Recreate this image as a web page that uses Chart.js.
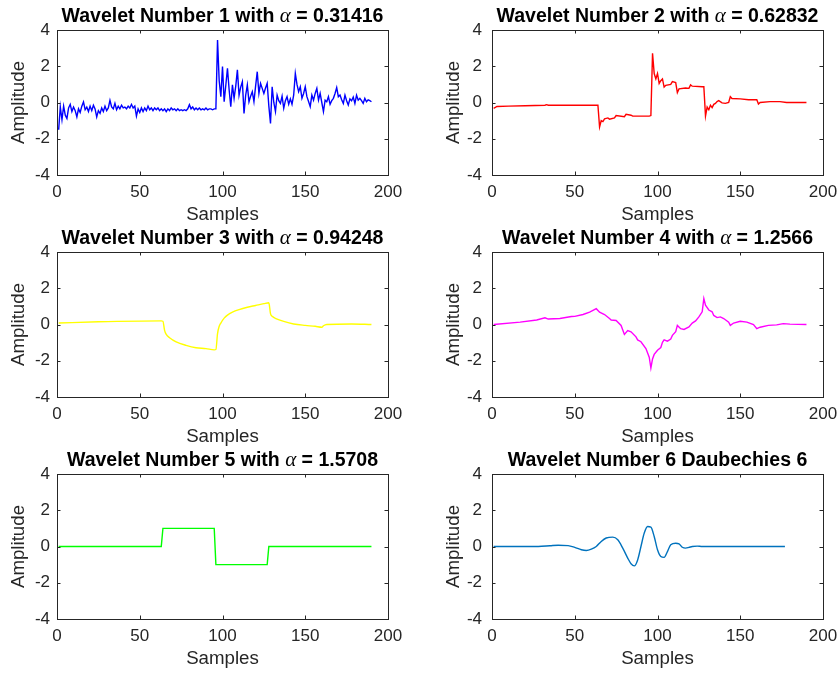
<!DOCTYPE html>
<html>
<head>
<meta charset="utf-8">
<title>Wavelets</title>
<script src="https://cdn.jsdelivr.net/npm/chart.js@4/dist/chart.umd.min.js"></script>
<style>
  html, body { margin: 0; padding: 0; background: #fff; overflow: hidden; }
  body { width: 839px; height: 673px; position: relative; }
  canvas { position: absolute; }
</style>
</head>
<body>
<canvas id="w1"></canvas>
<canvas id="w2"></canvas>
<canvas id="w3"></canvas>
<canvas id="w4"></canvas>
<canvas id="w5"></canvas>
<canvas id="w6"></canvas>
<script>
// wavelet 1, one value per sample starting at sample 1
const wavelet1 = [
  -1.50, -0.25, -0.95, -0.20, -0.70, -0.88, -0.30, -0.10, -0.50, -0.25,
  -0.45, -0.80, -0.35, -0.55, -0.20, 0.03, -0.40, -0.25, -0.50, -0.20,
  -0.45, -0.15, -0.35, -0.80, -0.45, -0.60, -0.30, -0.50, -0.20, -0.45,
  -0.30, 0.12, -0.25, -0.35, -0.05, -0.40, -0.20, -0.35, -0.15, -0.30,
  -0.25, -0.35, -0.20, -0.30, -0.10, -0.30, -0.20, -0.75, -0.35, -0.55,
  -0.30, -0.50, -0.30, -0.45, -0.20, -0.40, -0.30, -0.45, -0.30, -0.40,
  -0.30, -0.45, -0.35, -0.45, -0.35, -0.50, -0.35, -0.45, -0.30, -0.40,
  -0.35, -0.45, -0.35, -0.45, -0.40, -0.45, -0.40, -0.45, -0.35, -0.12,
  -0.35, -0.25, -0.40, -0.30, -0.40, -0.30, -0.40, -0.35, -0.40, -0.30,
  -0.40, -0.35, -0.35, -0.40, -0.35, -0.35,
  3.45, 1.20, 0.32, 1.98, 0.05, 0.95, 1.89, 0.70, -0.23, 0.97,
  0.23, 0.90, 1.80, 0.40, 0.85, 1.15, -0.60, 0.40, 0.97, 0.04,
  0.35, 0.60, 0.05, 0.90, 1.70, 0.50, 1.05, 0.78, 0.50, 0.80,
  1.06, -0.20, -1.15, 0.87, 0.00, -0.50, 0.41, 0.10, -0.05, 0.35,
  -0.32, 0.10, 0.32, -0.10, 0.20, -0.10, 0.40, 1.60, 1.00, 0.60,
  0.87, 0.23, 0.50, 0.87, 0.32, 0.05, -0.23, 0.41, 0.13, 0.50,
  0.78, 0.13, 0.50, 0.00, -0.50, 0.13, 0.04, 0.32, -0.10, 0.10,
  0.23, 0.50, 0.82, 0.32, 0.41, 0.15, -0.05, 0.41, 0.10, -0.14,
  0.20, 0.10, 0.30, -0.05, 0.40, 0.13, 0.23, 0.10, -0.05, 0.23,
  0.04, 0.15, 0.10, 0.04
];

// the other wavelets as (sample, amplitude) vertices
const wavelet2X = [1, 3, 10, 20, 32, 33, 34, 50, 64, 65, 66, 67, 68, 70, 71, 74, 75, 80, 81, 84, 85, 95, 96, 97, 98, 99, 100, 101, 102, 103, 104, 105, 108, 109, 111, 112, 113, 117, 119, 120, 121, 127, 128, 129, 130, 131, 132, 133, 134, 135, 136, 137, 139, 141, 143, 144, 145, 150, 155, 160, 161, 162, 168, 174, 178, 190];
const wavelet2Y = [-0.32, -0.22, -0.2, -0.18, -0.15, -0.12, -0.15, -0.15, -0.15, -1.35, -1.0, -1.05, -0.9, -0.85, -0.92, -0.85, -0.72, -0.78, -0.65, -0.7, -0.75, -0.75, -0.72, 2.72, 1.6, 1.3, 1.6, 1.05, 1.2, 1.3, 0.85, 0.95, 1.0, 1.15, 1.1, 0.55, 0.75, 0.8, 0.78, 0.97, 0.9, 0.87, 0.87, -0.75, -0.25, -0.4, -0.15, -0.28, -0.1, -0.05, 0.05, 0.1, -0.02, -0.05, 0.0, 0.32, 0.22, 0.2, 0.15, 0.15, -0.08, 0.0, 0.05, 0.05, 0.0, 0.0];

const wavelet3X = [1, 25, 63, 64, 65, 66, 68, 72, 78, 84, 90, 95, 96, 97, 98, 99, 101, 103, 106, 110, 115, 120, 125, 128, 129, 130, 133, 137, 143, 150, 156, 160, 161, 163, 178, 190];
const wavelet3Y = [0.08, 0.15, 0.2, 0.18, -0.32, -0.55, -0.73, -0.96, -1.15, -1.28, -1.33, -1.4, -1.38, -0.5, -0.1, 0.08, 0.35, 0.52, 0.68, 0.82, 0.95, 1.05, 1.15, 1.2, 0.6, 0.45, 0.3, 0.17, 0.03, -0.05, -0.1, -0.15, -0.07, 0.0, 0.03, 0.0];

const wavelet4X = [1, 17, 27, 32, 34, 41, 48, 50, 55, 59, 63, 65, 68, 71, 72, 75, 78, 80, 82, 84, 87, 88, 90, 93, 95, 96, 97, 98, 100, 102, 103, 104, 106, 108, 109, 111, 112, 114, 116, 119, 121, 123, 125, 127, 128, 129, 131, 133, 134, 136, 138, 140, 143, 144, 146, 150, 154, 158, 160, 162, 167, 172, 176, 180, 190];
const wavelet4Y = [0, 0.13, 0.25, 0.37, 0.3, 0.33, 0.44, 0.45, 0.55, 0.68, 0.87, 0.68, 0.55, 0.33, 0.25, 0.22, -0.05, -0.55, -0.33, -0.4, -0.68, -0.85, -0.95, -1.33, -1.8, -2.4, -1.9, -1.65, -1.42, -1.27, -0.98, -0.85, -0.92, -0.8, -0.6, -0.4, -0.05, -0.23, -0.27, -0.13, 0.08, 0.2, 0.42, 0.7, 1.43, 1.07, 0.8, 0.7, 0.5, 0.38, 0.42, 0.33, 0.13, -0.05, 0.08, 0.18, 0.13, 0.0, -0.23, -0.15, -0.05, -0.02, 0.05, 0.02, 0.0];

const wavelet5X = [1, 63, 64, 95, 96, 127, 128, 190];
const wavelet5Y = [0, 0, 1, 1, -1, -1, 0, 0];

const wavelet6X = [1, 28, 35, 40, 46, 50, 54, 57, 60, 63, 66, 69, 73, 76, 79, 82, 84, 86, 88, 90, 92, 94, 96, 98, 100, 102, 104, 106, 108, 111, 113, 115, 117, 119, 121, 124, 127, 177];
const wavelet6Y = [0, 0, 0.04, 0.07, 0.05, -0.05, -0.18, -0.22, -0.15, 0.0, 0.28, 0.47, 0.52, 0.37, -0.09, -0.64, -0.95, -1.07, -0.74, 0.0, 0.74, 1.1, 1.07, 0.55, -0.18, -0.55, -0.6, -0.28, 0.09, 0.18, 0.15, -0.04, -0.09, -0.05, 0.0, 0.02, 0.0, 0.0];

const alphas = ['0.31416', '0.62832', '0.94248', '1.2566', '1.5708'];
const xTicks = [0, 50, 100, 150, 200];
const yTicks = [-4, -2, 0, 2, 4];

const AXIS_COLOR = '#262626';
const SANS = '"Liberation Sans", Arial, Helvetica, sans-serif';
const TICK_LEN = 3.5;

// plot box geometry (page pixels)
const COLS = [57, 492];
const ROWS = [30, 252, 474];
const BOX_W = 331, BOX_H = 145;
const Y_AXIS_W = 57, X_AXIS_H = 51, PAD_TOP = 30, PAD_RIGHT = 14;

function pairs (xs, ys) {
  return xs.map((x, i) => ({ x, y: ys[i] }));
}

// keep the box fixed: no extra room for overhanging tick labels
function fixScale (size) {
  return s => {
    if (s.isHorizontal()) s.height = size; else s.width = size;
    s.paddingLeft = s.paddingRight = s.paddingTop = s.paddingBottom = 0;
  };
}

const panels = [
  { id: 'w1', col: 0, row: 0, color: '#0000ff', data: wavelet1.map((y, i) => ({ x: i + 1, y })),
    title: [{ text: 'Wavelet Number 1 with ' }, { text: 'α', math: true }, { text: ' = ' + alphas[0] }] },
  { id: 'w2', col: 1, row: 0, color: '#ff0000', data: pairs(wavelet2X, wavelet2Y),
    title: [{ text: 'Wavelet Number 2 with ' }, { text: 'α', math: true }, { text: ' = ' + alphas[1] }] },
  { id: 'w3', col: 0, row: 1, color: '#ffff00', data: pairs(wavelet3X, wavelet3Y), smooth: true,
    title: [{ text: 'Wavelet Number 3 with ' }, { text: 'α', math: true }, { text: ' = ' + alphas[2] }] },
  { id: 'w4', col: 1, row: 1, color: '#ff00ff', data: pairs(wavelet4X, wavelet4Y),
    title: [{ text: 'Wavelet Number 4 with ' }, { text: 'α', math: true }, { text: ' = ' + alphas[3] }] },
  { id: 'w5', col: 0, row: 2, color: '#00ff00', data: pairs(wavelet5X, wavelet5Y),
    title: [{ text: 'Wavelet Number 5 with ' }, { text: 'α', math: true }, { text: ' = ' + alphas[4] }] },
  { id: 'w6', col: 1, row: 2, color: '#0072bd', data: pairs(wavelet6X, wavelet6Y), smooth: true,
    title: [{ text: 'Wavelet Number 6 Daubechies 6' }] }
];

// title with an italic math alpha between bold runs
const mathTitle = {
  id: 'mathTitle',
  afterDraw (chart, args, opts) {
    const { ctx, chartArea: a } = chart;
    const parts = opts.parts.map(p => ({
      text: p.text,
      font: p.math ? 'italic 21px "Liberation Serif", serif' : 'bold 19.5px ' + SANS
    }));
    let total = 0;
    ctx.save();
    parts.forEach(p => { ctx.font = p.font; p.w = ctx.measureText(p.text).width; total += p.w; });
    let x = (a.left + a.right) / 2 - total / 2;
    ctx.fillStyle = '#000';
    ctx.textBaseline = 'alphabetic';
    ctx.textAlign = 'left';
    parts.forEach(p => { ctx.font = p.font; ctx.fillText(p.text, x, a.top - 8); x += p.w; });
    ctx.restore();
  }
};

// axes box with inward ticks on all four sides
const boxTicks = {
  id: 'boxTicks',
  afterDatasetsDraw (chart) {
    const { ctx, chartArea: a, scales: { x, y } } = chart;
    ctx.save();
    ctx.strokeStyle = AXIS_COLOR;
    ctx.lineWidth = 1;
    ctx.beginPath();
    x.ticks.forEach(t => {
      const px = Math.round(x.getPixelForValue(t.value)) + 0.5;
      ctx.moveTo(px, a.bottom); ctx.lineTo(px, a.bottom - TICK_LEN);
      ctx.moveTo(px, a.top); ctx.lineTo(px, a.top + TICK_LEN);
    });
    y.ticks.forEach(t => {
      const py = Math.round(y.getPixelForValue(t.value)) + 0.5;
      ctx.moveTo(a.left, py); ctx.lineTo(a.left + TICK_LEN, py);
      ctx.moveTo(a.right, py); ctx.lineTo(a.right - TICK_LEN, py);
    });
    ctx.stroke();
    ctx.strokeRect(Math.round(a.left) + 0.5, Math.round(a.top) + 0.5, Math.round(a.width), Math.round(a.height));
    ctx.restore();
  }
};

panels.forEach(p => {
  const canvas = document.getElementById(p.id);
  const w = BOX_W + Y_AXIS_W + PAD_RIGHT;
  const h = BOX_H + PAD_TOP + X_AXIS_H;
  canvas.width = w;
  canvas.height = h;
  canvas.style.left = (COLS[p.col] - Y_AXIS_W) + 'px';
  canvas.style.top = (ROWS[p.row] - PAD_TOP) + 'px';

  new Chart(canvas, {
    type: 'line',
    data: {
      datasets: [{
        data: p.data,
        borderColor: p.color,
        borderWidth: 1.4,
        pointRadius: 0,
        fill: false,
        cubicInterpolationMode: p.smooth ? 'monotone' : 'default',
        tension: 0
      }]
    },
    options: {
      responsive: false,
      animation: false,
      devicePixelRatio: 1,
      layout: { padding: { top: PAD_TOP, right: PAD_RIGHT, left: 0, bottom: 0 } },
      scales: {
        x: {
          type: 'linear',
          min: xTicks[0],
          max: xTicks[xTicks.length - 1],
          afterBuildTicks: s => { s.ticks = xTicks.map(v => ({ value: v })); },
          afterFit: fixScale(X_AXIS_H),
          grid: { display: false, drawTicks: false },
          border: { display: false },
          ticks: { color: AXIS_COLOR, padding: 7, maxRotation: 0, font: { family: SANS, size: 17 } },
          title: { display: true, text: 'Samples', color: AXIS_COLOR, padding: 0, font: { family: SANS, size: 18.7 } }
        },
        y: {
          min: yTicks[0],
          max: yTicks[yTicks.length - 1],
          afterBuildTicks: s => { s.ticks = yTicks.map(v => ({ value: v })); },
          afterFit: fixScale(Y_AXIS_W),
          grid: { display: false, drawTicks: false },
          border: { display: false },
          ticks: { color: AXIS_COLOR, padding: p.col === 0 ? 7 : 10, font: { family: SANS, size: 17 } },
          title: { display: true, text: 'Amplitude', color: AXIS_COLOR, padding: { top: 8, bottom: 0 }, font: { family: SANS, size: 18.7 } }
        }
      },
      plugins: {
        legend: { display: false },
        tooltip: { enabled: false },
        mathTitle: { parts: p.title }
      }
    },
    plugins: [mathTitle, boxTicks]
  });
});
</script>
</body>
</html>
